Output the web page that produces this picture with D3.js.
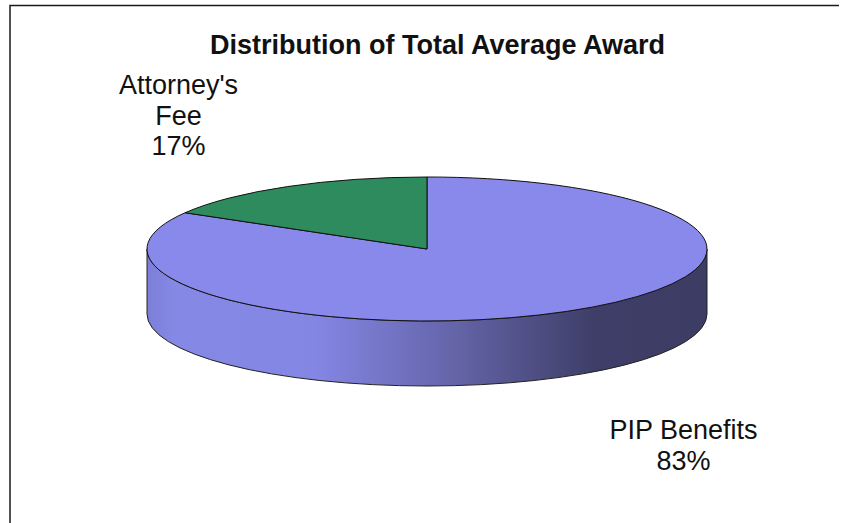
<!DOCTYPE html>
<html>
<head>
<meta charset="utf-8">
<script src="https://cdn.jsdelivr.net/npm/d3@7"></script>
<style>
  html, body { margin: 0; padding: 0; background: #fff; }
  svg { display: block; }
  text { font-family: "Liberation Sans", Arial, sans-serif; fill: #111; }
</style>
</head>
<body>
<svg width="841" height="523"></svg>
<script>
const width = 841
const height = 523

// values, the labels show them rounded
const categories = ["PIP Benefits", "Attorney's Fee"]
const shares = [83.4, 16.6]
const sliceColors = ["#8989ec", "#2e8b5e"]
const labelLines = [["PIP Benefits"], ["Attorney's", "Fee"]]
const chartTitle = "Distribution of Total Average Award"

const cx = 427
const cy = 249
const rx = 280
const ry = 72
const depth = 65

const svg = d3.select("svg")

// frame, only top and left show
svg.append("path")
  .attr("d", `M10,${height} V5.5 H${width - 2}`)
  .attr("fill", "none")
  .attr("stroke", "#1a1a1a")
  .attr("stroke-width", 1.5)

svg.append("text")
  .attr("x", 437.5)
  .attr("y", 54)
  .attr("text-anchor", "middle")
  .attr("font-size", "27px")
  .attr("font-weight", "bold")
  .text(chartTitle)

// side shading
const grad = svg.append("defs").append("linearGradient")
  .attr("id", "sideShade")
  .attr("gradientUnits", "userSpaceOnUse")
  .attr("x1", cx - rx).attr("x2", cx + rx)
  .attr("y1", 0).attr("y2", 0)

const shadeStops = [[0, "#7c7fd6"], [0.05, "#8688e6"], [0.3, "#8486e4"], [0.55, "#6464a8"], [0.8, "#3e3e68"], [1, "#3c3c64"]]
grad.selectAll("stop")
  .data(shadeStops)
  .enter()
  .append("stop")
  .attr("offset", d => d[0])
  .attr("stop-color", d => d[1])

svg.append("path")
  .attr("d", `M${cx - rx},${cy} V${cy + depth} A${rx},${ry} 0 0 0 ${cx + rx},${cy + depth} V${cy} A${rx},${ry} 0 0 1 ${cx - rx},${cy} Z`)
  .attr("fill", "url(#sideShade)")
  .attr("stroke", "#222")
  .attr("stroke-width", 1)

// top face, a flat pie squashed into an ellipse
const pie = d3.pie().sort(null).startAngle(0).endAngle(2 * Math.PI)
const arcs = pie(shares)
const arc = d3.arc().innerRadius(0).outerRadius(rx)

const topFace = svg.append("g")
  .attr("transform", `translate(${cx},${cy}) scale(1,${ry / rx})`)

topFace.selectAll("path")
  .data(arcs)
  .enter()
  .append("path")
  .attr("d", arc)
  .attr("fill", (d, i) => sliceColors[i])
  .attr("stroke", "#111")
  .attr("stroke-width", 1)
  .attr("vector-effect", "non-scaling-stroke")

// labels
const labelPos = [[683.5, 439], [178.5, 94]]
const labels = svg.selectAll("g.label")
  .data(categories)
  .enter()
  .append("g")
  .attr("class", "label")

labels.each(function (d, i) {
  const lines = labelLines[i].concat(Math.round(shares[i]) + "%")
  d3.select(this).selectAll("text")
    .data(lines)
    .enter()
    .append("text")
    .attr("x", labelPos[i][0])
    .attr("y", (l, j) => labelPos[i][1] + j * 30.5)
    .attr("text-anchor", "middle")
    .attr("font-size", "27px")
    .text(l => l)
})
</script>
</body>
</html>
